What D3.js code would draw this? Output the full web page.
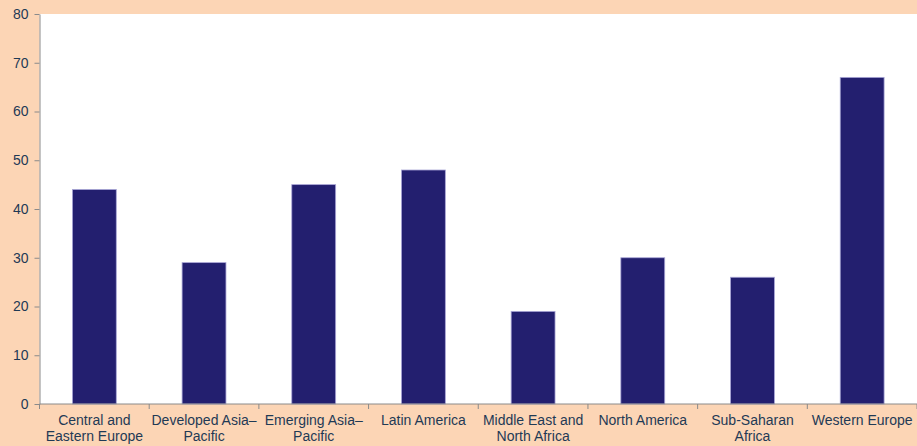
<!DOCTYPE html>
<html>
<head>
<meta charset="utf-8">
<title>Regions bar chart</title>
<script src="https://cdn.jsdelivr.net/npm/d3@7"></script>
<style>
    body {
        margin: 0;
        padding: 0;
        background-color: #fcd5b5;
    }
    .axis text {
        font-family: Arial, "Liberation Sans", sans-serif;
        font-size: 14px;
        fill: #1f3a55;
    }
    .axis path, .axis line {
        stroke: #8a8a8a;
    }
</style>
</head>
<body>
<div id="chart"></div>
<script>
const categories = [
    ["Central and", "Eastern Europe"],
    ["Developed Asia\u2013", "Pacific"],
    ["Emerging Asia\u2013", "Pacific"],
    ["Latin America"],
    ["Middle East and", "North Africa"],
    ["North America"],
    ["Sub-Saharan", "Africa"],
    ["Western Europe"]
];
const values = [44, 29, 45, 48, 19, 30, 26, 67];
const yTicks = [0, 10, 20, 30, 40, 50, 60, 70, 80];

const width = 917, height = 446;
const margin = { top: 14, right: 0, bottom: 42, left: 39.5 };
const innerW = width - margin.left - margin.right;
const innerH = height - margin.top - margin.bottom;

const svg = d3.select('#chart')
    .append('svg')
    .attr('width', width)
    .attr('height', height);

const g = svg.append('g')
    .attr('transform', `translate(${margin.left},${margin.top})`);

g.append('rect')
    .attr('width', innerW)
    .attr('height', innerH)
    .attr('fill', '#ffffff');

const keys = categories.map((d, i) => i);
const x = d3.scaleBand()
    .domain(keys)
    .range([0, innerW])
    .paddingInner(0.6)
    .paddingOuter(0.3);

const xOuter = d3.scaleBand().domain(keys).range([0, innerW]);

const y = d3.scaleLinear()
    .domain([0, 80])
    .range([innerH, 0]);

g.selectAll('.bar')
    .data(values)
    .enter()
    .append('rect')
    .attr('class', 'bar')
    .attr('x', (d, i) => x(i))
    .attr('y', d => y(d))
    .attr('width', x.bandwidth())
    .attr('height', d => innerH - y(d))
    .attr('fill', '#231f6f')
    .attr('stroke', '#a9a6d6')
    .attr('stroke-width', 0.8);

// y axis
g.append('g')
    .attr('class', 'axis')
    .call(d3.axisLeft(y).tickValues(yTicks).tickSize(5).tickSizeOuter(0).tickPadding(6));

// x axis: ticks at band boundaries
const xAxis = g.append('g')
    .attr('class', 'axis')
    .attr('transform', `translate(0,${innerH})`);
xAxis.append('line')
    .attr('x1', 0).attr('x2', innerW)
    .attr('stroke', '#8a8a8a');
xAxis.selectAll('.tick')
    .data(keys.concat([keys.length]))
    .enter()
    .append('line')
    .attr('x1', d => d < keys.length ? xOuter(d) : innerW)
    .attr('x2', d => d < keys.length ? xOuter(d) : innerW)
    .attr('y1', 0).attr('y2', 5)
    .attr('stroke', '#8a8a8a');

const labels = xAxis.selectAll('.lbl')
    .data(categories)
    .enter()
    .append('text')
    .attr('class', 'lbl')
    .attr('text-anchor', 'middle')
    .attr('transform', (d, i) => `translate(${xOuter(i) + xOuter.bandwidth() / 2},21)`);
labels.selectAll('tspan')
    .data(d => d)
    .enter()
    .append('tspan')
    .attr('x', 0)
    .attr('dy', (d, i) => i === 0 ? 0 : 16)
    .text(d => d);
</script>
</body>
</html>
